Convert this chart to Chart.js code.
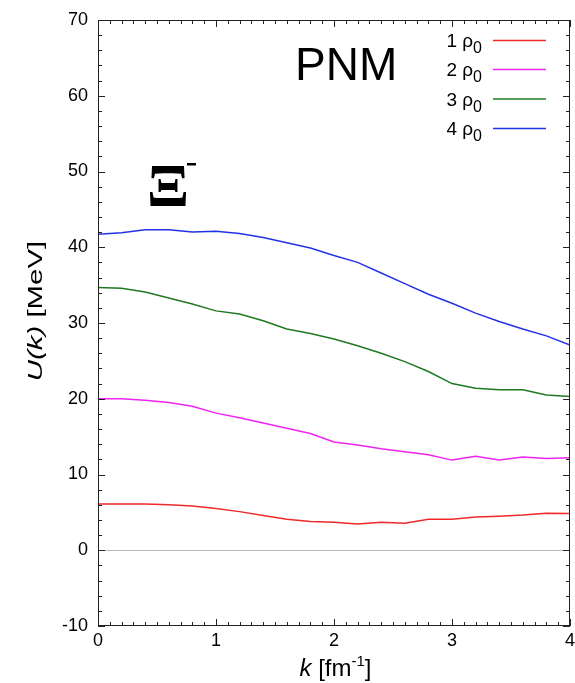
<!DOCTYPE html>
<html>
<head>
<meta charset="utf-8">
<script src="https://cdn.jsdelivr.net/npm/chart.js@4"></script>
<style>
html,body{margin:0;padding:0;background:#fff;}
#wrap{width:575px;height:683px;position:relative;}
</style>
</head>
<body>
<div id="wrap"><canvas id="c" width="575" height="683"></canvas></div>
<script>
// momentum k [fm^-1]
const kValues = [0,0.2,0.4,0.6,0.8,1.0,1.2,1.4,1.6,1.8,2.0,2.2,2.4,2.6,2.8,3.0,3.2,3.4,3.6,3.8,4.0];
// U(k) [MeV] at each density
const rho1 = [6.1,6.1,6.1,6.0,5.85,5.5,5.1,4.6,4.1,3.8,3.7,3.45,3.7,3.55,4.1,4.1,4.4,4.5,4.65,4.9,4.85];
const rho2 = [20.0,20.0,19.8,19.5,19.0,18.1,17.5,16.8,16.1,15.4,14.3,13.9,13.4,13.0,12.6,11.9,12.4,11.9,12.3,12.1,12.2];
const rho3 = [34.7,34.6,34.1,33.3,32.5,31.6,31.2,30.3,29.2,28.6,27.9,27.0,26.0,24.9,23.6,22.0,21.4,21.2,21.2,20.5,20.3];
const rho4 = [41.7,41.9,42.3,42.3,42.0,42.1,41.8,41.3,40.6,39.9,38.9,38.0,36.6,35.2,33.8,32.6,31.3,30.2,29.2,28.3,27.1];
const seriesNames = ['1','2','3','4'];
const xTicks = [0,1,2,3,4];
const yTicks = [-10,0,10,20,30,40,50,60,70];

const colors = ['#ee2a2a','#f024f0','#1f7a1f','#2233e6'];
const allSeries = [rho1,rho2,rho3,rho4];

const datasets = allSeries.map((s,i)=>({
  label: seriesNames[i],
  data: kValues.map((k,j)=>({x:k,y:s[j]})),
  borderColor: colors[i],
  backgroundColor: colors[i],
  borderWidth: 1.5,
  pointRadius: 0,
  tension: 0,
  fill: false
}));

const SANS = '"Liberation Sans", Arial, Helvetica, sans-serif';

const decor = {
  id: 'decor',
  afterDraw(chart){
    const ctx = chart.ctx;
    const a = chart.chartArea;
    const xs = chart.scales.x, ys = chart.scales.y;
    ctx.save();
    // frame
    ctx.strokeStyle = '#222';
    ctx.lineWidth = 1;
    ctx.strokeRect(Math.round(a.left)+0.5, Math.round(a.top)+0.5, Math.round(a.right-a.left)-1, Math.round(a.bottom-a.top)-1);
    // ticks (inward, mirrored)
    ctx.beginPath();
    for (let v=0; v<=4.0001; v+=0.1){
      const px = Math.round(xs.getPixelForValue(v))+0.5;
      const major = Math.abs(v-Math.round(v))<1e-6;
      const L = major?7:4;
      ctx.moveTo(px,a.bottom); ctx.lineTo(px,a.bottom-L);
      ctx.moveTo(px,a.top); ctx.lineTo(px,a.top+L);
    }
    for (let v=-10; v<=70; v+=2){
      const py = Math.round(ys.getPixelForValue(v))+0.5;
      const major = v%10===0;
      const L = major?7:4;
      ctx.moveTo(a.left,py); ctx.lineTo(a.left+L,py);
      ctx.moveTo(a.right,py); ctx.lineTo(a.right-L,py);
    }
    ctx.stroke();

    ctx.fillStyle = '#000';
    // PNM
    ctx.font = '46px ' + SANS;
    ctx.textBaseline = 'alphabetic';
    ctx.textAlign = 'left';
    ctx.fillText('PNM', 295, 80);

    // Xi^-
    ctx.font = 'bold 62px "Liberation Serif", "DejaVu Serif", serif';
    ctx.fillText('Ξ', 147, 206);
    ctx.fillRect(187, 163, 9, 2.5);

    // legend
    const rowsY = [47, 76, 105.5, 135];
    chart.data.datasets.forEach((ds,i)=>{
      const y = rowsY[i];
      const right = 482;
      ctx.font = '16px ' + SANS;
      const subW = ctx.measureText('0').width;
      ctx.font = '19px ' + SANS;
      const main = ds.label + ' ρ';
      const mw = ctx.measureText(main).width;
      const x0 = right - subW - mw;
      ctx.fillStyle = '#000';
      ctx.fillText(main, x0, y);
      ctx.font = '16px ' + SANS;
      ctx.fillText('0', x0+mw, y+6);
      ctx.strokeStyle = ds.borderColor;
      ctx.lineWidth = 1.5;
      ctx.beginPath();
      ctx.moveTo(493, y-6.5); ctx.lineTo(546, y-6.5);
      ctx.stroke();
    });

    // x title
    ctx.fillStyle = '#000';
    const parts = [
      {t:'k', f:'italic 24px '+SANS, dy:0},
      {t:' [fm', f:'24px '+SANS, dy:0},
      {t:'-1', f:'15px '+SANS, dy:-10},
      {t:']', f:'24px '+SANS, dy:0}
    ];
    let tw = 0;
    parts.forEach(p=>{ctx.font=p.f; p.w=ctx.measureText(p.t).width; tw+=p.w;});
    let xx = 335.5 - tw/2;
    parts.forEach(p=>{ctx.font=p.f; ctx.fillText(p.t, xx, 676+p.dy); xx+=p.w;});

    // y title (rotated, stretched along text)
    ctx.save();
    ctx.translate(42, 311);
    ctx.rotate(-Math.PI/2);
    ctx.scale(1.4,1);
    const yparts = [
      {t:'U(k)', f:'italic 21px '+SANS},
      {t:' [MeV]', f:'21px '+SANS}
    ];
    let yw = 0;
    yparts.forEach(p=>{ctx.font=p.f; p.w=ctx.measureText(p.t).width; yw+=p.w;});
    let yx = -yw/2;
    yparts.forEach(p=>{ctx.font=p.f; ctx.fillText(p.t, yx, 0); yx+=p.w;});
    ctx.restore();

    ctx.restore();
  }
};

new Chart(document.getElementById('c'), {
  type: 'line',
  data: { datasets },
  options: {
    responsive: false,
    animation: false,
    events: [],
    layout: { padding: { left: 0, right: 5, top: 20, bottom: 0 } },
    plugins: { legend: { display: false }, tooltip: { enabled: false } },
    scales: {
      x: {
        type: 'linear',
        min: 0, max: 4,
        afterBuildTicks: s => { s.ticks = xTicks.map(v=>({value:v})); },
        afterFit: s => { s.height = 57; s.paddingRight = 0; s.paddingLeft = 0; },
        grid: { drawOnChartArea: false, drawTicks: false },
        border: { display: false },
        ticks: { color: '#000', padding: 4, font: { size: 18, family: SANS }, maxRotation: 0 }
      },
      y: {
        type: 'linear',
        min: -10, max: 70,
        afterBuildTicks: s => { s.ticks = yTicks.map(v=>({value:v})); },
        afterFit: s => { s.width = 98; s.paddingTop = 0; s.paddingBottom = 0; },
        grid: {
          drawOnChartArea: true, drawTicks: false,
          color: c => (c.tick && c.tick.value === 0) ? '#b8b8b8' : 'rgba(0,0,0,0)',
          lineWidth: 1
        },
        border: { display: false },
        ticks: { color: '#000', padding: 10, font: { size: 18, family: SANS } }
      }
    }
  },
  plugins: [decor]
});
</script>
</body>
</html>
